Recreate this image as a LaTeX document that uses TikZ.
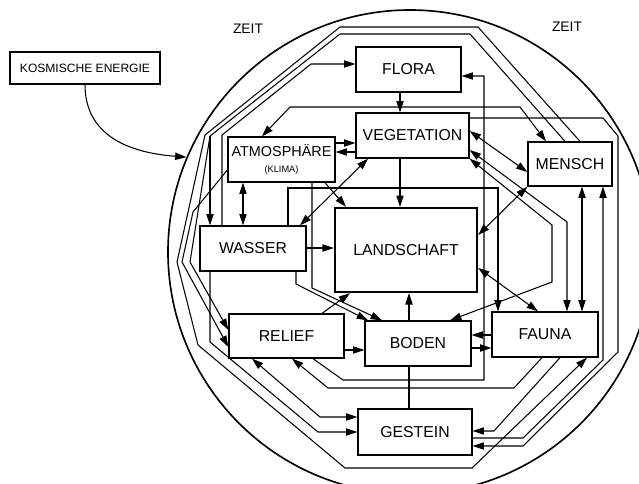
\documentclass[tikz,border=0pt]{standalone}
\usepackage{fontspec}
\setmainfont{Liberation Sans}
\usetikzlibrary{arrows.meta}

\begin{document}
\begin{tikzpicture}[
  x=0.3mm, y=-0.3mm,
  >={Triangle[length=3.4mm,width=2.2mm]},
  box/.style={draw, line width=1.1pt, inner sep=1pt, align=center,
              font=\fontsize{13.5}{15}\selectfont},
  lnk/.style={line width=0.9pt},
  arr/.style={lnk, ->},
  dbl/.style={lnk, <->},
  zeit/.style={font=\fontsize{11.8}{13}\selectfont}
]
  \useasboundingbox (0,0) rectangle (639,483);

  % Zeit-Kreis
  \node[draw, circle, line width=1.4pt, minimum size=145.2mm, inner sep=0pt] (kreis) at (410,252) {};
  \node[zeit] (zeitl) at (248,29) {ZEIT};
  \node[zeit] (zeitr) at (567,27) {ZEIT};

  % Geofaktoren
  \node[box, minimum width=45mm, minimum height=9.6mm, font=\fontsize{10.3}{12}\selectfont] (kosmos) at (85,68) {KOSMISCHE ENERGIE};
  \node[box, minimum width=31.5mm, minimum height=13.5mm] (flora) at (408.5,69.5) {FLORA};
  \node[box, minimum width=33.9mm, minimum height=13.5mm] (veget) at (412.5,135.5) {VEGETATION};
  \node[box, minimum width=32.1mm, minimum height=13.5mm, font=\fontsize{12.3}{13}\selectfont] (atmo) at (281.5,159.5) {ATMOSPHÄRE\\{\fontsize{7.9}{9}\selectfont (KLIMA)}};
  \node[box, minimum width=25.2mm, minimum height=13.2mm] (mensch) at (570,164) {MENSCH};
  \node[box, minimum width=31.8mm, minimum height=13.5mm] (wasser) at (253,248.5) {WASSER};
  \node[box, line width=2pt, minimum width=42.6mm, minimum height=25.2mm] (landschaft) at (406,250) {LANDSCHAFT};
  \node[box, minimum width=34.5mm, minimum height=13.2mm] (relief) at (286.5,336) {RELIEF};
  \node[box, minimum width=31.8mm, minimum height=13.5mm] (boden) at (418,343.5) {BODEN};
  \node[box, minimum width=31.8mm, minimum height=13.5mm] (fauna) at (545,334.5) {FAUNA};
  \node[box, minimum width=34.2mm, minimum height=13.8mm] (gestein) at (415,432) {GESTEIN};

  % Energie von aussen
  \draw[arr] (kosmos.south) .. controls (85,130) and (120,152) .. (kreis.157);

  % Mitte
  \draw[arr] (400,0 |- flora.south) -- (400,0 |- veget.north);
  \draw[arr] (400,0 |- veget.south) -- (400,0 |- landschaft.north);
  \draw[arr] (409,0 |- boden.north) -- (409,0 |- landschaft.south);
  \draw[lnk] (409,0 |- gestein.north) -- (409,0 |- boden.south);
  \draw[arr] (wasser.east |- 0,248) -- (landschaft.west |- 0,248);
  \draw[arr] (relief.east |- 0,350) -- (boden.west |- 0,350);
  \draw[arr] (fauna.west |- 0,335) -- (boden.east |- 0,335);
  \draw[arr] (boden.east |- 0,348) -- (fauna.west |- 0,348);

  % Atmosphaere und Wasser
  \draw[dbl] (243,0 |- atmo.south) -- (243,0 |- wasser.north);
  \draw[arr] (atmo.east |- 0,143) -- (veget.west |- 0,143);
  \draw[arr] (veget.west |- 0,152) -- (atmo.east |- 0,152);
  \draw[dbl] (262,0 |- atmo.north) -- (290,107) -- (520,107) -- (546,0 |- mensch.north);
  \draw[dbl] (300,0 |- wasser.north) -- (368,0 |- veget.south);
  \draw[arr] (325,0 |- atmo.south) -- (346,0 |- landschaft.north);
  \draw[arr] (322,0 |- relief.north) -- (350,0 |- landschaft.south);
  \draw[arr] (312,0 |- atmo.south) -- (312,288) -- (382,0 |- boden.north);
  \draw[arr] (296,0 |- wasser.south) -- (296,284) -- (368,0 |- boden.north);
  \draw[arr] (288,0 |- wasser.north) -- (288,188) -- (498,188) -- (498,0 |- fauna.north);

  % Relief und Gestein
  \draw[arr] (313,0 |- relief.south) -- (343,380) -- (484,380) -- (484,76) -- (flora.east |- 0,76);
  \draw[arr] (542,0 |- fauna.south) -- (514,388) -- (328,388) -- (292,0 |- relief.south);
  \draw[dbl] (252,0 |- relief.south) -- (320,417) -- (gestein.west |- 0,417);
  \draw[arr] (210,0 |- wasser.south) -- (210,342) -- (318,432) -- (gestein.west |- 0,432);

  % rechte Seite
  \draw[dbl] (veget.east |- 0,131) -- (mensch.west |- 0,172);
  \draw[dbl] (veget.east |- 0,150) -- (567,222) -- (567,0 |- fauna.north);
  \draw[dbl] (veget.south east) -- (552,225) -- (552,282) -- (450,0 |- boden.north);
  \draw[dbl] (mensch.south west) -- (landschaft.east |- 0,235);
  \draw[dbl] (landschaft.east |- 0,268) -- (538,0 |- fauna.north);
  \draw[dbl] (582,0 |- mensch.south) -- (582,0 |- fauna.north);
  \draw[arr] (gestein.east |- 0,438) -- (523,438) -- (603,360) -- (603,0 |- mensch.south);
  \draw[arr] (560,0 |- fauna.south) -- (494,431) -- (gestein.east |- 0,431);
  \draw[arr] (veget.east |- 0,118) -- (603,118) -- (618,136) -- (618,352) -- (523,446) -- (gestein.east |- 0,446);

  % aeussere Ringe
  \coordinate (knick) at (210,136);
  \draw[arr] (580,0 |- mensch.north) -- (478,27) -- (340,27) -- (205,135) -- (177,262) -- (198,345) -- (345,468) -- (472,468) -- (587,0 |- fauna.south);
  \draw[arr] (565,0 |- mensch.north) -- (470,34) -- (340,34) -- (knick) -- (190,262) -- (relief.west |- 0,330);
  \draw[arr] (knick) -- (knick |- wasser.north);
  \draw[arr] (222,0 |- wasser.north) -- (222,135) -- (311,64) -- (flora.west |- 0,64);
  \draw[arr] (atmo.west |- 0,170) -- (193,212) -- (182,262) -- (relief.west |- 0,347);
\end{tikzpicture}
\end{document}
